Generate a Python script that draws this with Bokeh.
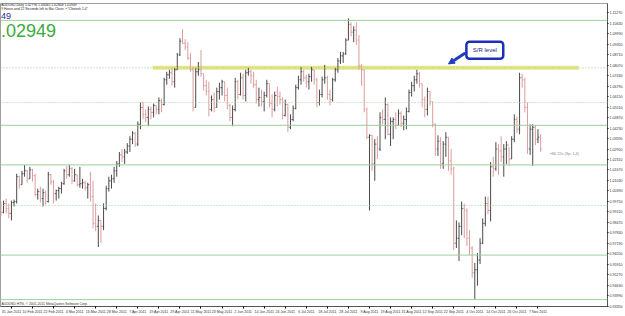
from bokeh.plotting import figure
from bokeh.models import (Range1d, Span, Label, FixedTicker, BoxAnnotation, Arrow,
                          NormalHead, ColumnDataSource, NumeralTickFormatter)
from bokeh.embed import file_html
from bokeh.resources import INLINE

# ---------------- data (AUDUSD daily, 25 Jan 2011 .. 8 Nov 2011) ----------------
opens = [0.9956, 0.9908, 0.9962, 0.9932, 0.9902, 0.9968, 0.9974, 1.0126, 1.0077, 1.0144,
         1.0162, 1.0113, 1.0168, 1.0132, 1.0017, 1.0035, 0.9992, 1.0029, 0.9974, 1.0138,
         1.0095, 1.0023, 1.0041, 1.0053, 1.0083, 1.0162, 1.0138, 1.0174, 1.0101, 1.0138,
         1.0077, 1.0083, 1.0089, 1.0059, 1.0077, 1.0005, 0.9841, 0.9823, 0.9859, 0.9823,
         0.9932, 1.0053, 1.0101, 1.0113, 1.0162, 1.0204, 1.0259, 1.0247, 1.0277, 1.0313,
         1.0355, 1.0392, 1.0325, 1.0446, 1.0549, 1.0507, 1.0488, 1.0537, 1.0519, 1.0561,
         1.0537, 1.0591, 1.0567, 1.0718, 1.0749, 1.0761, 1.0706, 1.0779, 1.0870, 1.0954,
         1.0942, 1.0918, 1.0851, 1.0779, 1.0549, 1.0767, 1.0779, 1.0755, 1.0682, 1.0646,
         1.0537, 1.0597, 1.0549, 1.0646, 1.0670, 1.0706, 1.0622, 1.0561, 1.0488, 1.0537,
         1.0706, 1.0628, 1.0730, 1.0622, 1.0761, 1.0767, 1.0743, 1.0688, 1.0597, 1.0610,
         1.0585, 1.0622, 1.0694, 1.0573, 1.0537, 1.0622, 1.0616, 1.0597, 1.0500, 1.0567,
         1.0428, 1.0476, 1.0543, 1.0670, 1.0718, 1.0767, 1.0730, 1.0706, 1.0737, 1.0779,
         1.0718, 1.0579, 1.0628, 1.0718, 1.0730, 1.0628, 1.0597, 1.0718, 1.0779, 1.0833,
         1.0864, 1.0876, 1.0960, 1.1057, 1.1009, 1.1021, 1.0960, 1.0803, 1.0779, 1.0537,
         1.0367, 1.0379, 1.0204, 1.0325, 1.0295, 1.0488, 1.0476, 1.0567, 1.0385, 1.0464,
         1.0476, 1.0440, 1.0513, 1.0452, 1.0476, 1.0525, 1.0640, 1.0682, 1.0718, 1.0755,
         1.0694, 1.0597, 1.0537, 1.0646, 1.0585, 1.0446, 1.0295, 1.0343, 1.0204, 1.0325,
         1.0367, 1.0222, 1.0174, 0.9720, 0.9750, 0.9823, 0.9932, 0.9920, 0.9750, 0.9690,
         0.9539, 0.9557, 0.9617, 0.9720, 0.9841, 0.9962, 0.9920, 1.0186, 1.0174, 1.0295,
         1.0283, 1.0247, 1.0295, 1.0319, 1.0234, 1.0355, 1.0476, 1.0416, 1.0730, 1.0718,
         1.0549, 1.0295, 1.0416, 1.0428, 1.0355, 1.0367]
highs = [0.9974, 0.9980, 0.9992, 0.9962, 0.9980, 0.9986, 1.0144, 1.0132, 1.0162, 1.0198,
         1.0168, 1.0186, 1.0174, 1.0144, 1.0053, 1.0065, 1.0053, 1.0041, 1.0156, 1.0144,
         1.0107, 1.0047, 1.0065, 1.0095, 1.0174, 1.0192, 1.0198, 1.0186, 1.0174, 1.0138,
         1.0186, 1.0113, 1.0101, 1.0089, 1.0156, 1.0101, 0.9962, 0.9889, 0.9859, 0.9962,
         1.0071, 1.0126, 1.0138, 1.0186, 1.0222, 1.0277, 1.0295, 1.0295, 1.0331, 1.0373,
         1.0404, 1.0398, 1.0464, 1.0579, 1.0585, 1.0537, 1.0555, 1.0555, 1.0573, 1.0561,
         1.0610, 1.0604, 1.0730, 1.0767, 1.0779, 1.0791, 1.0791, 1.0882, 1.0972, 1.1027,
         1.0966, 1.0948, 1.0882, 1.0797, 1.0791, 1.0827, 1.0900, 1.0755, 1.0718, 1.0706,
         1.0622, 1.0640, 1.0670, 1.0700, 1.0718, 1.0706, 1.0670, 1.0573, 1.0561, 1.0730,
         1.0718, 1.0761, 1.0755, 1.0779, 1.0791, 1.0779, 1.0767, 1.0718, 1.0670, 1.0658,
         1.0646, 1.0718, 1.0694, 1.0628, 1.0646, 1.0676, 1.0646, 1.0610, 1.0597, 1.0573,
         1.0507, 1.0561, 1.0688, 1.0743, 1.0797, 1.0779, 1.0749, 1.0755, 1.0797, 1.0779,
         1.0730, 1.0658, 1.0737, 1.0809, 1.0743, 1.0658, 1.0730, 1.0791, 1.0851, 1.0888,
         1.0888, 1.0972, 1.1093, 1.1069, 1.1045, 1.1069, 1.0991, 1.0815, 1.0779, 1.0549,
         1.0385, 1.0379, 1.0355, 1.0373, 1.0519, 1.0537, 1.0610, 1.0573, 1.0488, 1.0488,
         1.0519, 1.0537, 1.0525, 1.0500, 1.0549, 1.0658, 1.0706, 1.0743, 1.0779, 1.0767,
         1.0694, 1.0616, 1.0670, 1.0646, 1.0585, 1.0452, 1.0379, 1.0367, 1.0343, 1.0398,
         1.0367, 1.0295, 1.0186, 0.9859, 0.9847, 0.9974, 0.9962, 0.9932, 0.9799, 0.9702,
         0.9599, 0.9660, 0.9750, 0.9871, 1.0005, 1.0005, 1.0216, 1.0247, 1.0337, 1.0325,
         1.0373, 1.0325, 1.0343, 1.0307, 1.0373, 1.0507, 1.0494, 1.0761, 1.0755, 1.0730,
         1.0579, 1.0446, 1.0446, 1.0440, 1.0416, 1.0385]
lows = [0.9884, 0.9902, 0.9902, 0.9871, 0.9859, 0.9944, 0.9962, 1.0053, 1.0077, 1.0126,
        1.0089, 1.0113, 1.0095, 1.0005, 0.9986, 0.9968, 0.9944, 0.9956, 0.9968, 1.0077,
        0.9962, 0.9980, 0.9992, 1.0023, 1.0077, 1.0113, 1.0126, 1.0083, 1.0095, 1.0065,
        1.0059, 1.0053, 1.0041, 0.9992, 0.9974, 0.9811, 0.9793, 0.9696, 0.9720, 0.9799,
        0.9920, 1.0035, 1.0053, 1.0089, 1.0126, 1.0186, 1.0216, 1.0204, 1.0265, 1.0277,
        1.0325, 1.0307, 1.0313, 1.0416, 1.0476, 1.0458, 1.0434, 1.0476, 1.0488, 1.0507,
        1.0507, 1.0519, 1.0561, 1.0688, 1.0724, 1.0682, 1.0670, 1.0779, 1.0864, 1.0936,
        1.0900, 1.0839, 1.0767, 1.0525, 1.0549, 1.0743, 1.0737, 1.0652, 1.0622, 1.0494,
        1.0525, 1.0519, 1.0549, 1.0597, 1.0622, 1.0585, 1.0537, 1.0464, 1.0434, 1.0525,
        1.0597, 1.0622, 1.0597, 1.0585, 1.0743, 1.0694, 1.0670, 1.0573, 1.0555, 1.0555,
        1.0525, 1.0610, 1.0549, 1.0488, 1.0525, 1.0555, 1.0567, 1.0476, 1.0494, 1.0398,
        1.0416, 1.0464, 1.0537, 1.0658, 1.0688, 1.0706, 1.0670, 1.0658, 1.0706, 1.0688,
        1.0549, 1.0561, 1.0610, 1.0694, 1.0597, 1.0561, 1.0585, 1.0706, 1.0761, 1.0815,
        1.0821, 1.0870, 1.0960, 1.0984, 1.0948, 1.0930, 1.0779, 1.0682, 1.0519, 1.0355,
        0.9920, 1.0162, 1.0101, 1.0234, 1.0283, 1.0446, 1.0355, 1.0379, 1.0313, 1.0355,
        1.0416, 1.0440, 1.0428, 1.0410, 1.0416, 1.0519, 1.0616, 1.0646, 1.0694, 1.0670,
        1.0549, 1.0488, 1.0500, 1.0561, 1.0428, 1.0253, 1.0253, 1.0174, 1.0174, 1.0247,
        1.0162, 1.0138, 0.9678, 0.9690, 0.9611, 0.9768, 0.9750, 0.9702, 0.9647, 0.9508,
        0.9375, 0.9460, 0.9593, 0.9714, 0.9823, 0.9896, 0.9853, 1.0126, 1.0162, 1.0138,
        1.0216, 1.0126, 1.0204, 1.0192, 1.0234, 1.0337, 1.0392, 1.0385, 1.0670, 1.0519,
        1.0265, 1.0259, 1.0192, 1.0319, 1.0331, 1.0277]
closes = [0.9908, 0.9962, 0.9932, 0.9902, 0.9968, 0.9974, 1.0126, 1.0077, 1.0144, 1.0162,
          1.0113, 1.0168, 1.0132, 1.0017, 1.0035, 0.9992, 1.0029, 0.9974, 1.0138, 1.0095,
          1.0023, 1.0041, 1.0053, 1.0083, 1.0162, 1.0138, 1.0174, 1.0101, 1.0138, 1.0077,
          1.0083, 1.0089, 1.0059, 1.0077, 1.0005, 0.9841, 0.9823, 0.9859, 0.9823, 0.9932,
          1.0053, 1.0101, 1.0113, 1.0162, 1.0204, 1.0259, 1.0247, 1.0277, 1.0313, 1.0355,
          1.0392, 1.0325, 1.0446, 1.0549, 1.0507, 1.0488, 1.0537, 1.0519, 1.0561, 1.0537,
          1.0591, 1.0567, 1.0718, 1.0749, 1.0761, 1.0706, 1.0779, 1.0870, 1.0954, 1.0942,
          1.0918, 1.0851, 1.0779, 1.0549, 1.0767, 1.0779, 1.0755, 1.0682, 1.0646, 1.0537,
          1.0597, 1.0549, 1.0646, 1.0670, 1.0706, 1.0622, 1.0561, 1.0488, 1.0537, 1.0706,
          1.0628, 1.0730, 1.0622, 1.0761, 1.0767, 1.0743, 1.0688, 1.0597, 1.0610, 1.0585,
          1.0622, 1.0694, 1.0573, 1.0537, 1.0622, 1.0616, 1.0597, 1.0500, 1.0567, 1.0428,
          1.0476, 1.0543, 1.0670, 1.0718, 1.0767, 1.0730, 1.0706, 1.0737, 1.0779, 1.0718,
          1.0579, 1.0628, 1.0718, 1.0730, 1.0628, 1.0597, 1.0718, 1.0779, 1.0833, 1.0864,
          1.0876, 1.0960, 1.1057, 1.1009, 1.1021, 1.0960, 1.0803, 1.0779, 1.0537, 1.0367,
          1.0379, 1.0204, 1.0325, 1.0295, 1.0488, 1.0476, 1.0567, 1.0385, 1.0464, 1.0476,
          1.0440, 1.0513, 1.0452, 1.0476, 1.0525, 1.0640, 1.0682, 1.0718, 1.0755, 1.0694,
          1.0597, 1.0537, 1.0646, 1.0585, 1.0446, 1.0295, 1.0343, 1.0204, 1.0325, 1.0367,
          1.0222, 1.0174, 0.9720, 0.9750, 0.9823, 0.9932, 0.9920, 0.9750, 0.9690, 0.9539,
          0.9557, 0.9617, 0.9720, 0.9841, 0.9962, 0.9920, 1.0186, 1.0174, 1.0295, 1.0283,
          1.0247, 1.0295, 1.0319, 1.0234, 1.0355, 1.0476, 1.0416, 1.0730, 1.0718, 1.0549,
          1.0295, 1.0416, 1.0428, 1.0355, 1.0367, 1.02949]

date_tick_idx = [4, 12, 20, 28, 36, 44, 52, 60, 68, 76, 84, 92, 100, 108, 116, 124,
                 132, 140, 148, 156, 164, 172, 180, 188, 196, 204]
date_tick_labels = ["31 Jan 2011", "10 Feb 2011", "22 Feb 2011", "4 Mar 2011", "16 Mar 2011",
                    "28 Mar 2011", "7 Apr 2011", "19 Apr 2011", "29 Apr 2011", "11 May 2011",
                    "23 May 2011", "2 Jun 2011", "14 Jun 2011", "24 Jun 2011", "6 Jul 2011",
                    "18 Jul 2011", "28 Jul 2011", "9 Aug 2011", "19 Aug 2011", "31 Aug 2011",
                    "12 Sep 2011", "22 Sep 2011", "4 Oct 2011", "14 Oct 2011", "26 Oct 2011",
                    "7 Nov 2011"]
price_ticks = [0.9335, 0.9399, 0.9463, 0.9527, 0.9591, 0.9655, 0.9719, 0.9783, 0.9847,
               0.9911, 0.9975, 1.0039, 1.0103, 1.0167, 1.0231, 1.0295, 1.0359, 1.0423,
               1.0487, 1.0551, 1.0615, 1.0679, 1.0743, 1.0807, 1.0871, 1.0935, 1.0999,
               1.1063, 1.1127]
solid_levels = [1.1081, 1.0440, 1.0198, 0.9647, 0.9375]
dotted_levels = [1.0791, 1.0579, 0.9950]
sr_level = 1.0791
sr_span = [57.6, 219.5]          # bar index range of the S/R band
bid = 1.02949

# ---------------- figure ----------------
p = figure(width=625, height=316, output_backend="svg", toolbar_location=None,
           x_range=Range1d(-0.15, 230.4), y_range=Range1d(0.9333, 1.1184),
           y_axis_location="right", min_border_left=0, min_border_right=14,
           min_border_top=3, min_border_bottom=7)
p.background_fill_color = "white"
p.border_fill_color = "white"
p.outline_line_color = "#a0a0a0"
p.grid.visible = False

FONT = "Liberation Sans"

# horizontal levels
for lv in solid_levels:
    p.add_layout(Span(location=lv, dimension="width", line_color="#9ad09a", line_width=1))
for lv in dotted_levels:
    p.add_layout(Span(location=lv, dimension="width", line_color="#9ad09a", line_width=1,
                      line_dash="1 2"))

# S/R band
p.segment(x0=[sr_span[0]], x1=[sr_span[1]], y0=[sr_level], y1=[sr_level],
          line_color="#e6e686", line_width=4)

# OHLC bars
n = len(closes)
idx = list(range(n))
colors = ["#4a4a4a" if c >= o else "#dc9c9c" for o, c in zip(opens, closes)]
src = ColumnDataSource(dict(x=idx, xl=[i - 0.4 for i in idx], xr=[i + 0.4 for i in idx],
                            o=opens, h=highs, l=lows, c=closes, col=colors))
p.segment(x0="x", x1="x", y0="l", y1="h", line_color="col", line_width=1, source=src)
p.segment(x0="xl", x1="x", y0="o", y1="o", line_color="col", line_width=1, source=src)
p.segment(x0="x", x1="xr", y0="c", y1="c", line_color="col", line_width=1, source=src)

# callout
p.add_layout(BoxAnnotation(left=176.8, right=190.8, top=1.0951, bottom=1.0846,
                           fill_color="white", fill_alpha=1, line_color="#1c2fb8",
                           line_alpha=1, line_width=2.5, border_radius=3))
p.add_layout(Label(x=183.8, y=1.0898, text="S/R level", text_align="center",
                   text_baseline="middle", text_font_size="6px", text_color="#1a237e",
                   text_font=FONT))
p.add_layout(Arrow(end=NormalHead(size=6, fill_color="#1f3fc0", line_color="#1f3fc0"),
                   x_start=176.4, y_start=1.0882, x_end=170.0, y_end=1.0815,
                   line_color="#1f3fc0", line_width=3))

# axes
ya = p.yaxis[0]
ya.ticker = FixedTicker(ticks=price_ticks)
ya.formatter = NumeralTickFormatter(format="0.00000")
ya.major_label_text_font_size = "3.6px"
ya.major_label_text_font = FONT
ya.major_label_text_color = "#333333"
ya.major_tick_out = 1
ya.major_tick_in = 0
ya.minor_tick_out = 0
ya.minor_tick_in = 0
ya.major_label_standoff = 1
ya.axis_line_color = "#555555"

xa = p.xaxis[0]
xa.ticker = FixedTicker(ticks=date_tick_idx)
xa.major_label_overrides = {i: s for i, s in zip(date_tick_idx, date_tick_labels)}
xa.major_label_text_font_size = "3.6px"
xa.major_label_text_font = FONT
xa.major_label_text_color = "#333333"
xa.major_label_text_align = "left"
xa.major_tick_out = 2
xa.major_tick_in = 0
xa.minor_tick_out = 0
xa.minor_tick_in = 0
xa.major_label_standoff = 1
xa.axis_line_color = "#555555"

# level boxes on price scale
for lv in solid_levels + dotted_levels:
    p.add_layout(Label(x=230.9, y=lv, text=f"{lv:.5f}", text_font_size="3.6px",
                       text_font=FONT, text_baseline="middle", text_color="#103010",
                       background_fill_color="#7ccf7c"))
p.add_layout(Label(x=230.9, y=bid, text=f"{bid:.5f}", text_font_size="3.6px",
                   text_font=FONT, text_baseline="middle", text_color="white",
                   background_fill_color="black"))

# texts
p.add_layout(Label(x=0.1, y=1.1172, text="AUDUSD,Daily  1.02796 1.03065 1.02848 1.02949",
                   text_font_size="3.4px", text_font=FONT, text_baseline="middle",
                   text_color="#222222"))
p.add_layout(Label(x=0.1, y=1.1149,
                   text="9 Hours and 22 Seconds left to Bar Close.  \u2022  \"Clonesk 1.4\"",
                   text_font_size="3.4px", text_font=FONT, text_baseline="middle",
                   text_color="#222222"))
p.add_layout(Label(x=0.0, y=1.1106, text="49", text_font_size="9px", text_font=FONT,
                   text_baseline="middle", text_color="#1f1fa0"))
p.add_layout(Label(x=0.0, y=1.1020, text=".02949", text_font_size="18px", text_font=FONT,
                   text_baseline="middle", text_color="#3aab3a"))
p.add_layout(Label(x=208.5, y=1.0265, text="\u00ab80 22s (Sp: 1.4)", text_font_size="3.8px",
                   text_font=FONT, text_baseline="middle", text_color="#888888"))
p.add_layout(Label(x=0.2, y=0.9346,
                   text="AUDUSD HTN, \u00a9 2001-2011 MetaQuotes Software Corp.",
                   text_font_size="3.4px", text_font=FONT, text_baseline="middle",
                   text_color="#333333"))
p.add_layout(Label(x=0.0, y=0.9316, text="2011", text_font_size="3.6px",
                   text_font=FONT, text_baseline="middle", text_color="#333333"))

open("out.html", "w").write(file_html(p, INLINE))
